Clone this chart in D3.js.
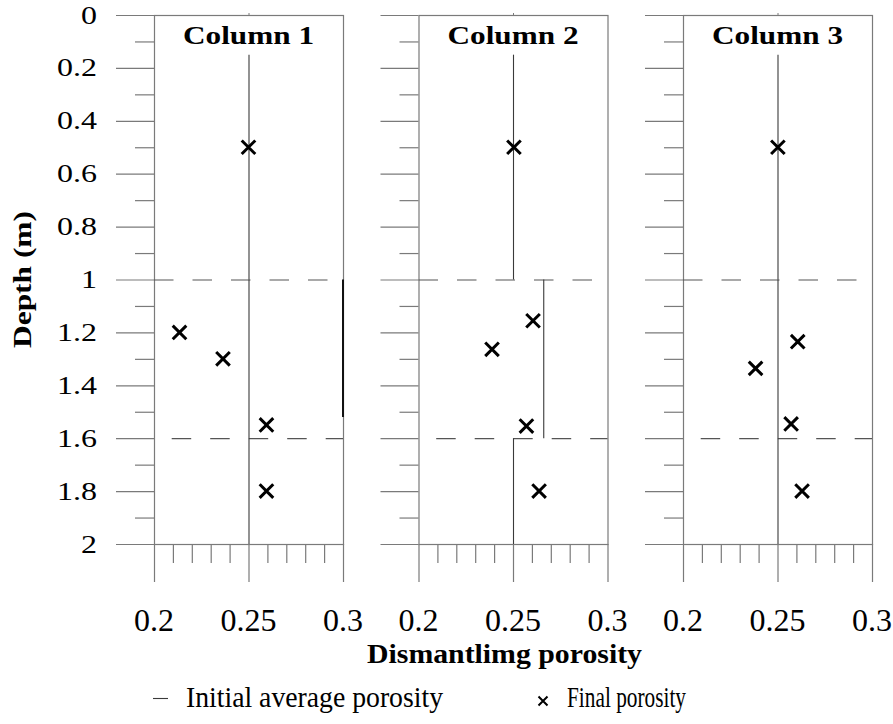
<!DOCTYPE html>
<html><head><meta charset="utf-8">
<script src="https://cdn.jsdelivr.net/npm/d3@7"></script>
<style>body{margin:0;background:#fff}</style>
</head><body><svg id="c" width="893" height="724"></svg>
<script>
const columnTitles = ["Column 1","Column 2","Column 3"];
const depthTicks = [0,0.2,0.4,0.6,0.8,1,1.2,1.4,1.6,1.8,2];
const depthTickLabels = ["0","0.2","0.4","0.6","0.8","1","1.2","1.4","1.6","1.8","2"];
const depthMinorTicks = [0.1,0.3,0.5,0.7,0.9,1.1,1.3,1.5,1.7,1.9];
const porosityTicks = [0.2,0.25,0.3];
const porosityTickLabels = ["0.2","0.25","0.3"];
const porosityMinorTicks = [0.21,0.22,0.23,0.24,0.26,0.27,0.28,0.29];
const layerBoundaries = [1.0,1.6];
const layerTop = [0.15,1.0,1.6];
const layerBottom = [1.0,1.6,2.0];
const initialPorosity1 = [0.25,0.25,0.25];
const initialPorosity2 = [0.25,0.266,0.25];
const initialPorosity3 = [0.25,0.25,0.25];
const edgeTop1 = [1.0], edgeBottom1 = [1.52], edgePorosity1 = [0.3];
const finalDepth1 = [0.5,1.2,1.3,1.55,1.8];
const finalPorosity1 = [0.25,0.2135,0.2365,0.2595,0.2595];
const finalDepth2 = [0.5,1.156,1.264,1.554,1.8];
const finalPorosity2 = [0.2505,0.2606,0.2389,0.2571,0.2638];
const finalDepth3 = [0.5,1.235,1.336,1.546,1.8];
const finalPorosity3 = [0.2502,0.2607,0.2384,0.2572,0.263];

const initialAll = [initialPorosity1, initialPorosity2, initialPorosity3];
const finalDepthAll = [finalDepth1, finalDepth2, finalDepth3];
const finalPorAll = [finalPorosity1, finalPorosity2, finalPorosity3];

const svg = d3.select("#c");
const FONT = '"Liberation Serif"';
const frameColor = "#7a7a7a";
const lineColor = "#3a3a3a";
const y = d3.scaleLinear().domain([0,2]).range([15,544]);
const panelW = 189, panelStep = 264.5, panelX0 = 154;

const crossPath = s => `M${-s},${-s}L${s},${s}M${-s},${s}L${s},${-s}`;
const txt = (parent) => parent.append("text").style("font-family", FONT).attr("fill", "#000");

columnTitles.forEach((title, i) => {
  const x0 = panelX0 + i*panelStep;
  const x = d3.scaleLinear().domain([0.2,0.3]).range([x0, x0+panelW]);
  const g = svg.append("g");

  const styleAxis = sel => {
    sel.select(".domain").remove();
    sel.selectAll("line").attr("stroke", frameColor).attr("stroke-width", 1.2);
    sel.selectAll("text").remove();
  };
  g.append("g").attr("transform", `translate(${x0},0)`)
    .call(d3.axisLeft(y).tickValues(depthTicks).tickSize(38).tickFormat(""))
    .call(styleAxis);
  g.append("g").attr("transform", `translate(${x0},0)`)
    .call(d3.axisLeft(y).tickValues(depthMinorTicks).tickSize(19).tickFormat(""))
    .call(styleAxis);
  g.append("g").attr("transform", `translate(0,${y(2)})`)
    .call(d3.axisBottom(x).tickValues(porosityTicks).tickSize(38).tickFormat(""))
    .call(styleAxis);
  g.append("g").attr("transform", `translate(0,${y(2)})`)
    .call(d3.axisBottom(x).tickValues(porosityMinorTicks).tickSize(19).tickFormat(""))
    .call(styleAxis);

  g.append("rect").attr("x", x(0.2)+0.5).attr("y", y(0)+0.5)
    .attr("width", x(0.3)-x(0.2)).attr("height", y(2)-y(0))
    .attr("fill","none").attr("stroke", frameColor).attr("stroke-width",1.2);
  g.append("line").attr("x1", x(0.25)+0.5).attr("x2", x(0.25)+0.5)
    .attr("y1", y(0)-2).attr("y2", y(0)).attr("stroke", frameColor);

  layerBoundaries.forEach((b, k) => {
    g.append("line").attr("x1", x(0.2)).attr("x2", x(0.3))
      .attr("y1", y(b)+0.5).attr("y2", y(b)+0.5)
      .attr("stroke", "#555").attr("stroke-width", 1.2)
      .attr("stroke-dasharray", "19.5,19")
      .attr("stroke-dashoffset", k === 0 ? 0 : 20.8);
  });

  initialAll[i].forEach((v, k) => {
    g.append("line").attr("x1", x(v)+0.5).attr("x2", x(v)+0.5)
      .attr("y1", y(layerTop[k])).attr("y2", y(layerBottom[k]))
      .attr("stroke", lineColor).attr("stroke-width", 1.1);
  });
  if (i === 0) {
    edgePorosity1.forEach((v, k) => {
      g.append("line").attr("x1", x(v)).attr("x2", x(v))
        .attr("y1", y(edgeTop1[k])).attr("y2", y(edgeBottom1[k]))
        .attr("stroke", "#111").attr("stroke-width", 2);
    });
  }

  finalDepthAll[i].forEach((d, k) => {
    g.append("path").attr("d", crossPath(6.8))
      .attr("transform", `translate(${x(finalPorAll[i][k])},${y(d)})`)
      .attr("stroke", "#000").attr("stroke-width", 3).attr("fill","none");
  });

  txt(g).attr("x", (x(0.2)+x(0.3))/2).attr("y", 44)
    .attr("text-anchor","middle")
    .style("font-weight","bold").style("font-size", "26px")
    .attr("textLength", 131).attr("lengthAdjust","spacingAndGlyphs")
    .text(title);

  porosityTicks.forEach((t, k) => {
    txt(g).attr("x", x(t)).attr("y", 631)
      .attr("text-anchor","middle")
      .style("font-size", "32px").text(porosityTickLabels[k]);
  });
});

depthTicks.forEach((t, k) => {
  txt(svg)
    .attr("transform", `translate(97,${y(t)+8.5}) scale(1.28,1)`)
    .attr("text-anchor","end")
    .style("font-size", "25px").text(depthTickLabels[k]);
});

txt(svg)
  .attr("transform", `translate(31,${(y(0)+y(2))/2}) rotate(-90)`)
  .attr("text-anchor","middle")
  .style("font-weight","bold").style("font-size", "26px")
  .attr("textLength", 137).attr("lengthAdjust","spacingAndGlyphs")
  .text("Depth (m)");
txt(svg).attr("x", 504.5).attr("y", 663)
  .attr("text-anchor","middle")
  .style("font-weight","bold").style("font-size", "27px")
  .attr("textLength", 275).attr("lengthAdjust","spacingAndGlyphs")
  .text("Dismantlimg porosity");

svg.append("line").attr("x1",153).attr("x2",168).attr("y1",698.5).attr("y2",698.5)
  .attr("stroke", lineColor).attr("stroke-width",1.1);
txt(svg).attr("x",186).attr("y",707)
  .style("font-size","30px").attr("textLength",257).attr("lengthAdjust","spacingAndGlyphs")
  .text("Initial average porosity");
svg.append("path").attr("d", crossPath(4.5)).attr("transform","translate(543,701)")
  .attr("stroke","#000").attr("stroke-width",2).attr("fill","none");
txt(svg).attr("x",567).attr("y",707)
  .style("font-size","30px").attr("textLength",119).attr("lengthAdjust","spacingAndGlyphs")
  .text("Final porosity");
</script></body></html>
